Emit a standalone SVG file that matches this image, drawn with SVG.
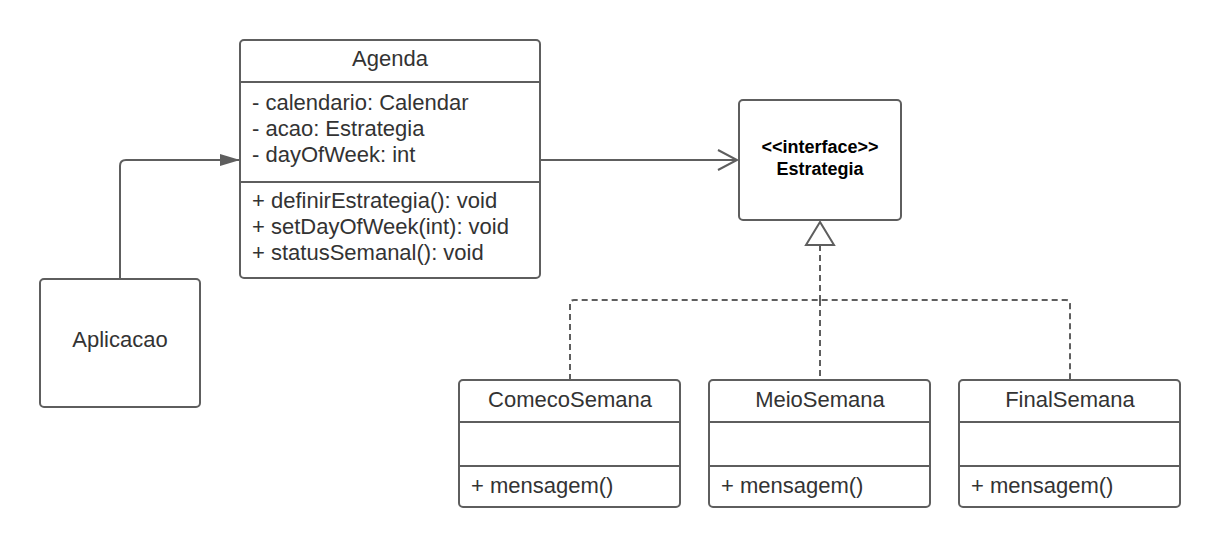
<svg xmlns="http://www.w3.org/2000/svg" width="1220" height="548" viewBox="0 0 1220 548">
<style>
.box{fill:#fff;stroke:#5e5e5e;stroke-width:2}
.div{stroke:#5e5e5e;stroke-width:2}
.t{font-family:"Liberation Sans",Arial,sans-serif;font-size:22px;fill:#333}
.c{text-anchor:middle}
.b{font-family:"Liberation Sans",Arial,sans-serif;font-size:18px;font-weight:bold;fill:#000;text-anchor:middle}
.ln{fill:none;stroke:#5e5e5e;stroke-width:2}
.dash{fill:none;stroke:#5e5e5e;stroke-width:2;stroke-dasharray:6 4}
</style>
<defs>
<marker id="filled" markerWidth="20" markerHeight="14" refX="20" refY="7" orient="auto" markerUnits="userSpaceOnUse">
<path d="M0,1 L20,7 L0,13 Z" fill="#5e5e5e"/>
</marker>
<marker id="open" markerWidth="24" markerHeight="24" refX="21" refY="12" orient="auto" markerUnits="userSpaceOnUse">
<path d="M2,2 L21,12 L2,22" fill="none" stroke="#5e5e5e" stroke-width="2"/>
</marker>
</defs>
<g id="connectors">
<path class="ln" d="M120,279 L120,166 Q120,160 126,160 L240,160" marker-end="url(#filled)"/>
<path class="ln" d="M540,160 L737,160" marker-end="url(#open)"/>
<path class="dash" d="M820,245 L820,300"/>
<path class="dash" d="M570,380 L570,304 Q570,300 574,300 L1066,300 Q1070,300 1070,304 L1070,380"/>
<path class="dash" d="M820,300 L820,380"/>
<path d="M820,222 L806,245 L834,245 Z" fill="#fff" stroke="#5e5e5e" stroke-width="2"/>
</g>
<g id="agenda">
<rect class="box" x="240" y="40" width="300" height="238" rx="4"/>
<line class="div" x1="240" y1="82" x2="540" y2="82"/>
<line class="div" x1="240" y1="182" x2="540" y2="182"/>
<text class="t c" x="390" y="66">Agenda</text>
<text class="t" x="252" y="110">- calendario: Calendar</text>
<text class="t" x="252" y="136">- acao: Estrategia</text>
<text class="t" x="252" y="162">- dayOfWeek: int</text>
<text class="t" x="252" y="208">+ definirEstrategia(): void</text>
<text class="t" x="252" y="234">+ setDayOfWeek(int): void</text>
<text class="t" x="252" y="260">+ statusSemanal(): void</text>
</g>
<g id="aplicacao">
<rect class="box" x="40" y="279" width="160" height="128" rx="4"/>
<text class="t c" x="120" y="347">Aplicacao</text>
</g>
<g id="estrategia">
<rect class="box" x="739" y="100" width="162" height="120" rx="4"/>
<text class="b" x="820" y="153">&lt;&lt;interface&gt;&gt;</text>
<text class="b" x="820" y="175">Estrategia</text>
</g>
<g id="comecoSemana">
<rect class="box" x="459" y="380" width="221" height="127" rx="4"/>
<line class="div" x1="459" y1="422" x2="680" y2="422"/>
<line class="div" x1="459" y1="466" x2="680" y2="466"/>
<text class="t c" x="570" y="407">ComecoSemana</text>
<text class="t" x="471" y="493">+ mensagem()</text>
</g>
<g id="meioSemana">
<rect class="box" x="709" y="380" width="221" height="127" rx="4"/>
<line class="div" x1="709" y1="422" x2="930" y2="422"/>
<line class="div" x1="709" y1="466" x2="930" y2="466"/>
<text class="t c" x="820" y="407">MeioSemana</text>
<text class="t" x="721" y="493">+ mensagem()</text>
</g>
<g id="finalSemana">
<rect class="box" x="959" y="380" width="221" height="127" rx="4"/>
<line class="div" x1="959" y1="422" x2="1180" y2="422"/>
<line class="div" x1="959" y1="466" x2="1180" y2="466"/>
<text class="t c" x="1070" y="407">FinalSemana</text>
<text class="t" x="971" y="493">+ mensagem()</text>
</g>
</svg>
